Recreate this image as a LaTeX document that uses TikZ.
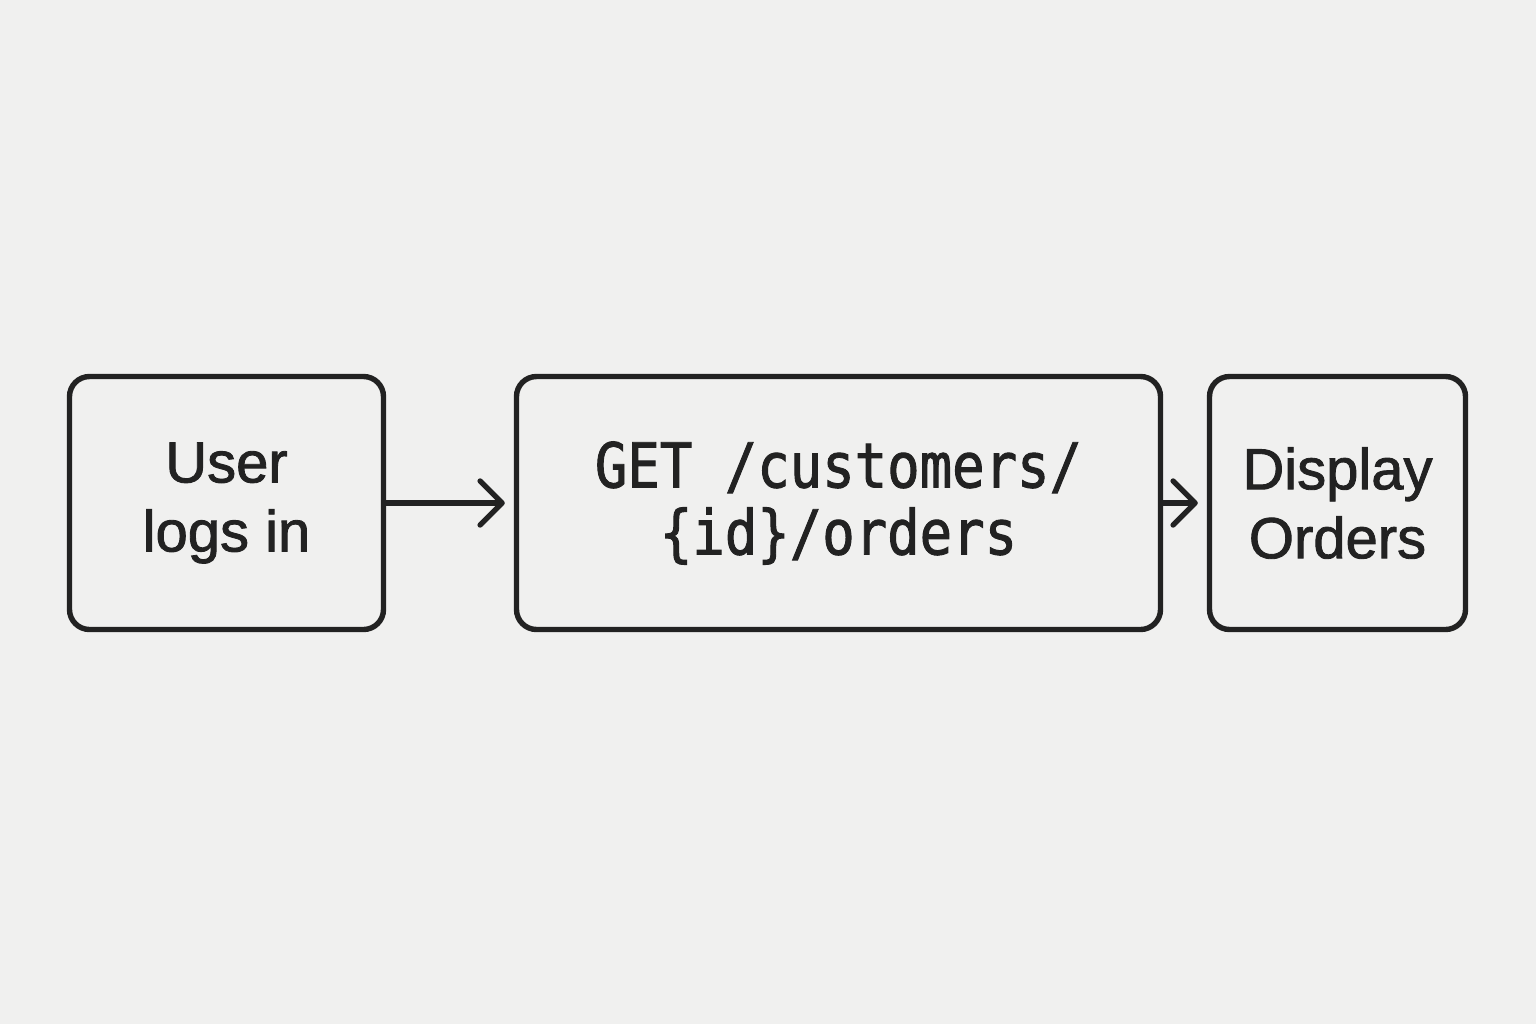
\documentclass[tikz,border=0pt]{standalone}
\usepackage{fontspec}
\setmainfont{Liberation Sans}
\newfontfamily\labelfont[FakeBold=1.5]{Liberation Sans}
\newfontfamily\codefont[FakeStretch=0.87, FakeBold=1.5]{DejaVu Sans Mono}
\usetikzlibrary{arrows.meta}
\definecolor{ink}{HTML}{222222}
\definecolor{paper}{HTML}{F0F0EF}
\begin{document}
\begin{tikzpicture}[x=0.5pt, y=-0.5pt, line width=2.7pt,
    box/.style={rectangle, rounded corners=10pt, draw=ink, text=ink, align=center,
      minimum height=126.5pt, inner sep=0pt},
    label/.style={font=\labelfont\fontsize{29}{34.5}\selectfont},
    code/.style={font=\codefont\fontsize{31}{33.5}\selectfont},
    flow/.style={draw=ink, shorten >=4.5pt, -{Straight Barb[length=11pt, width=22pt, round]}}]
    \fill [paper] (0,0) rectangle (1536,1024);
    \useasboundingbox (0,0) rectangle (1536,1024);
    \node [box, label, minimum width=157pt] (login) at (226.5,503) {User\\logs in};
    \node [box, code, minimum width=322pt] (request) at (838.5,503) {GET /customers/\\\{id\}/orders};
    \node [box, label, minimum width=128pt] (show) at (1337.5,503) {Display\\Orders};
    \path [flow] (login) -- (request);
    \path [flow] (request) -- (show);
\end{tikzpicture}
\end{document}
